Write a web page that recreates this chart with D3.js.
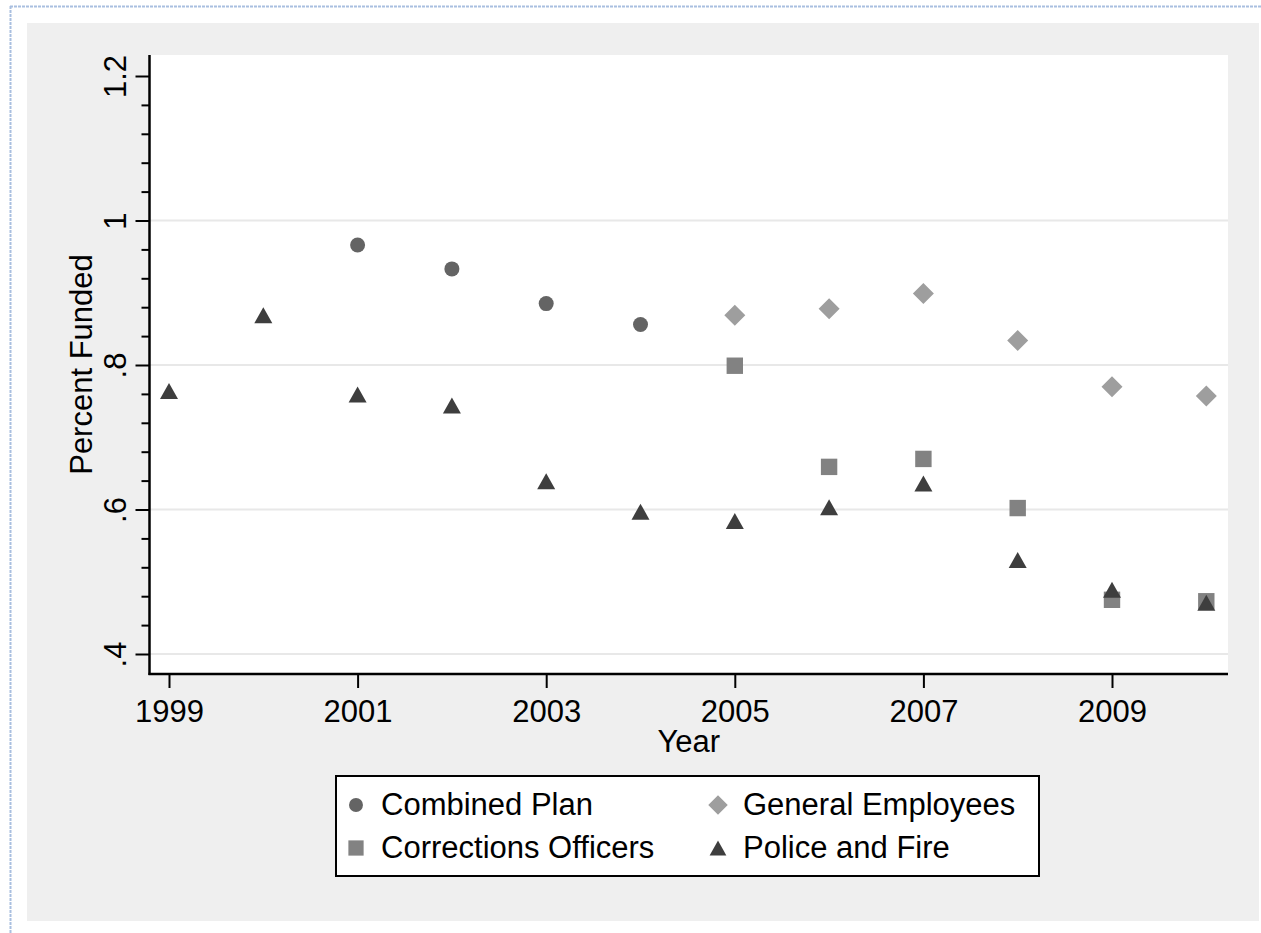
<!DOCTYPE html>
<html>
<head>
<meta charset="utf-8">
<script src="https://cdn.jsdelivr.net/npm/d3@7"></script>
<style>
  html, body { margin: 0; padding: 0; background: #ffffff; }
  svg { display: block; }
  text { font-family: "Liberation Sans", Arial, Helvetica, sans-serif; fill: #000; }
</style>
</head>
<body>
<svg id="chart" width="1261" height="933"></svg>
<script>
// Funded ratio by plan, 1999-2010
const combinedYears = [2001, 2002, 2003, 2004];
const combinedValues = [0.966, 0.933, 0.885, 0.856];

const correctionsYears = [2005, 2006, 2007, 2008, 2009, 2010];
const correctionsValues = [0.799, 0.659, 0.670, 0.602, 0.475, 0.473];

const generalYears = [2005, 2006, 2007, 2008, 2009, 2010];
const generalValues = [0.869, 0.878, 0.899, 0.834, 0.770, 0.757];

const policeYears = [1999, 2000, 2001, 2002, 2003, 2004, 2005, 2006, 2007, 2008, 2009, 2010];
const policeValues = [0.764, 0.869, 0.759, 0.744, 0.639, 0.597, 0.584, 0.603, 0.636, 0.530, 0.489, 0.471];

const xTickValues = [1999, 2001, 2003, 2005, 2007, 2009];
const yTickValues = [0.4, 0.6, 0.8, 1.0, 1.2];
const yTickLabels = [".4", ".6", ".8", "1", "1.2"];
const yGridValues = [0.4, 0.6, 0.8, 1.0];

const seriesNames = ["Combined Plan", "Corrections Officers", "General Employees", "Police and Fire"];

const FONT = 31;
const svg = d3.select("#chart");

// frame and background
svg.append("rect").attr("x", 27).attr("y", 23).attr("width", 1232).attr("height", 898).attr("fill", "#efefef");
svg.append("line").attr("x1", 10).attr("x2", 1261).attr("y1", 6.5).attr("y2", 6.5)
  .attr("stroke", "#a9bfe0").attr("stroke-width", 2).attr("stroke-dasharray", "3,1");
svg.append("line").attr("x1", 10.5).attr("x2", 10.5).attr("y1", 6).attr("y2", 933)
  .attr("stroke", "#a9bfe0").attr("stroke-width", 2).attr("stroke-dasharray", "3,1");

const plot = { left: 149.5, right: 1228, top: 55, bottom: 674 };
svg.append("rect").attr("x", plot.left).attr("y", plot.top)
  .attr("width", plot.right - plot.left).attr("height", plot.bottom - plot.top).attr("fill", "#ffffff");

const x = d3.scaleLinear().domain([1999, 2009]).range([169, 1112]);
const y = d3.scaleLinear().domain([0.4, 1.2]).range([654, 76]);

// gridlines
svg.append("g").selectAll("line").data(yGridValues).join("line")
  .attr("x1", plot.left).attr("x2", plot.right)
  .attr("y1", d => y(d)).attr("y2", d => y(d))
  .attr("stroke", "#e8e8e8").attr("stroke-width", 2);

// y axis with major and minor ticks
const yAxis = d3.axisLeft(y).tickValues(yTickValues)
  .tickFormat((d, i) => yTickLabels[i]).tickSize(14);
const gy = svg.append("g").attr("transform", `translate(${plot.left},0)`).call(yAxis);
gy.select(".domain").remove();
gy.selectAll(".tick line").attr("stroke", "#000").attr("stroke-width", 2);
gy.selectAll(".tick text")
  .attr("font-size", FONT)
  .attr("x", 0).attr("y", 0).attr("dy", 0)
  .attr("text-anchor", "middle")
  .attr("transform", "translate(-24,0) rotate(-90)");

const minorValues = d3.range(0, 21).map(i => 0.4 + i * 0.04).filter(v => !yTickValues.some(t => Math.abs(t - v) < 1e-6));
const yMinor = d3.axisLeft(y).tickValues(minorValues).tickSize(8).tickFormat("");
const gyMinor = svg.append("g").attr("transform", `translate(${plot.left},0)`).call(yMinor);
gyMinor.select(".domain").remove();
gyMinor.selectAll(".tick line").attr("stroke", "#000").attr("stroke-width", 2);

svg.append("line").attr("x1", plot.left).attr("x2", plot.left)
  .attr("y1", plot.top).attr("y2", plot.bottom + 1)
  .attr("stroke", "#000").attr("stroke-width", 2.5);

// x axis
const xAxis = d3.axisBottom(x).tickValues(xTickValues).tickFormat(d3.format("d")).tickSize(14);
const gx = svg.append("g").attr("transform", `translate(0,${plot.bottom})`).call(xAxis);
gx.select(".domain").remove();
gx.selectAll(".tick line").attr("stroke", "#000").attr("stroke-width", 2);
gx.selectAll(".tick text").attr("font-size", FONT).attr("y", 48).attr("dy", 0);

svg.append("line").attr("x1", plot.left - 1).attr("x2", plot.right)
  .attr("y1", plot.bottom).attr("y2", plot.bottom)
  .attr("stroke", "#000").attr("stroke-width", 2.5);

// axis titles
svg.append("text").attr("x", (plot.left + plot.right) / 2).attr("y", 752)
  .attr("text-anchor", "middle").attr("font-size", FONT).text("Year");
svg.append("text").attr("transform", `translate(92,${(plot.top + plot.bottom) / 2}) rotate(-90)`)
  .attr("text-anchor", "middle").attr("font-size", FONT).text("Percent Funded");

// marker shapes
const markers = {
  circle: { fill: "#646464", path: d3.symbol().type(d3.symbolCircle).size(Math.PI * 7.5 * 7.5)() },
  square: { fill: "#828282", path: "M-8.2,-8.2H8.2V8.2H-8.2Z" },
  diamond: { fill: "#9e9e9e", path: "M0,-10.5L10.5,0L0,10.5L-10.5,0Z" },
  triangle: { fill: "#3e3e3e", path: "M0,-8L9,8H-9Z" }
};

function drawSeries(years, values, shape) {
  const m = markers[shape];
  svg.append("g").selectAll("path").data(years.map((yr, i) => [yr, values[i]])).join("path")
    .attr("d", m.path).attr("fill", m.fill)
    .attr("transform", d => `translate(${x(d[0])},${y(d[1])})`);
}

drawSeries(combinedYears, combinedValues, "circle");
drawSeries(correctionsYears, correctionsValues, "square");
drawSeries(generalYears, generalValues, "diamond");
drawSeries(policeYears, policeValues, "triangle");

// legend
const legend = svg.append("g");
legend.append("rect").attr("x", 336).attr("y", 776).attr("width", 703).attr("height", 100)
  .attr("fill", "#fff").attr("stroke", "#000").attr("stroke-width", 2);
const legendItems = [
  { name: seriesNames[0], shape: "circle", col: 0, row: 0 },
  { name: seriesNames[2], shape: "diamond", col: 1, row: 0 },
  { name: seriesNames[1], shape: "square", col: 0, row: 1 },
  { name: seriesNames[3], shape: "triangle", col: 1, row: 1 }
];
const colX = [356, 718];
const rowY = [805, 848];
legendItems.forEach(it => {
  const m = markers[it.shape];
  legend.append("path").attr("d", m.path).attr("fill", m.fill)
    .attr("transform", `translate(${colX[it.col]},${rowY[it.row]}) scale(0.93)`);
  legend.append("text").attr("x", colX[it.col] + 25).attr("y", rowY[it.row] + 10)
    .attr("font-size", FONT).text(it.name);
});
</script>
</body>
</html>
